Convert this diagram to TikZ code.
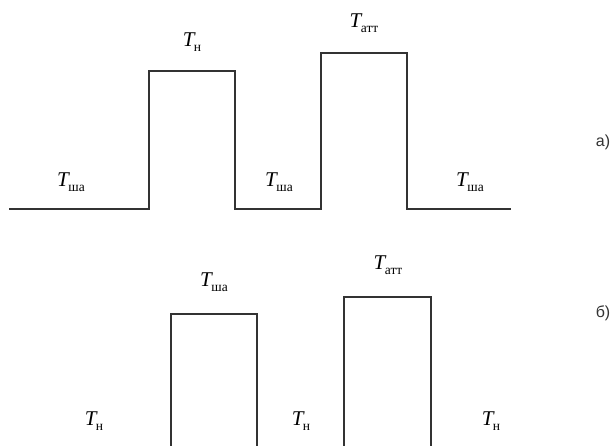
\documentclass[tikz,border=0pt]{standalone}
\usepackage{fontspec}
\setmainfont{Liberation Serif}
\newfontfamily\labfont{Liberation Sans}
\tikzset{
  sig/.style={draw=black!80, line width=1.5pt, line join=miter},
  tlab/.style={inner sep=0pt, font=\fontsize{21}{24}\selectfont},
  plab/.style={inner sep=0pt, font=\labfont\fontsize{16}{18}\selectfont, text=black!80}
}
\newcommand{\Tsub}[1]{{\itshape T}\kern-0.5pt\raisebox{-4.5pt}{\fontsize{13.5}{15}\selectfont #1}}
\begin{document}
\begin{tikzpicture}[x=1pt,y=-1pt]
\useasboundingbox (0,0) rectangle (614,446);
% a)
\draw[sig] (9,209) -- (149,209) -- (149,71) -- (235,71) -- (235,209)
  -- (321,209) -- (321,53) -- (407,53) -- (407,209) -- (511,209);
\node[tlab] (a1) at (71,182) {\Tsub{ша}};
\node[tlab] (a2) at (192,42) {\Tsub{н}};
\node[tlab] (a3) at (279,182) {\Tsub{ша}};
\node[tlab] (a4) at (364,23) {\Tsub{атт}};
\node[tlab] (a5) at (470,182) {\Tsub{ша}};
\node[plab] (la) at (603,142) {а)};
% б)
\draw[sig] (171,446) -- (171,314) -- (257,314) -- (257,446);
\draw[sig] (344,446) -- (344,297) -- (431,297) -- (431,446);
\node[tlab] (b1) at (94,421) {\Tsub{н}};
\node[tlab] (b2) at (214,282) {\Tsub{ша}};
\node[tlab] (b3) at (301,421) {\Tsub{н}};
\node[tlab] (b4) at (388,265) {\Tsub{атт}};
\node[tlab] (b5) at (491,421) {\Tsub{н}};
\node[plab] (lb) at (603,313) {б)};
\end{tikzpicture}
\end{document}
